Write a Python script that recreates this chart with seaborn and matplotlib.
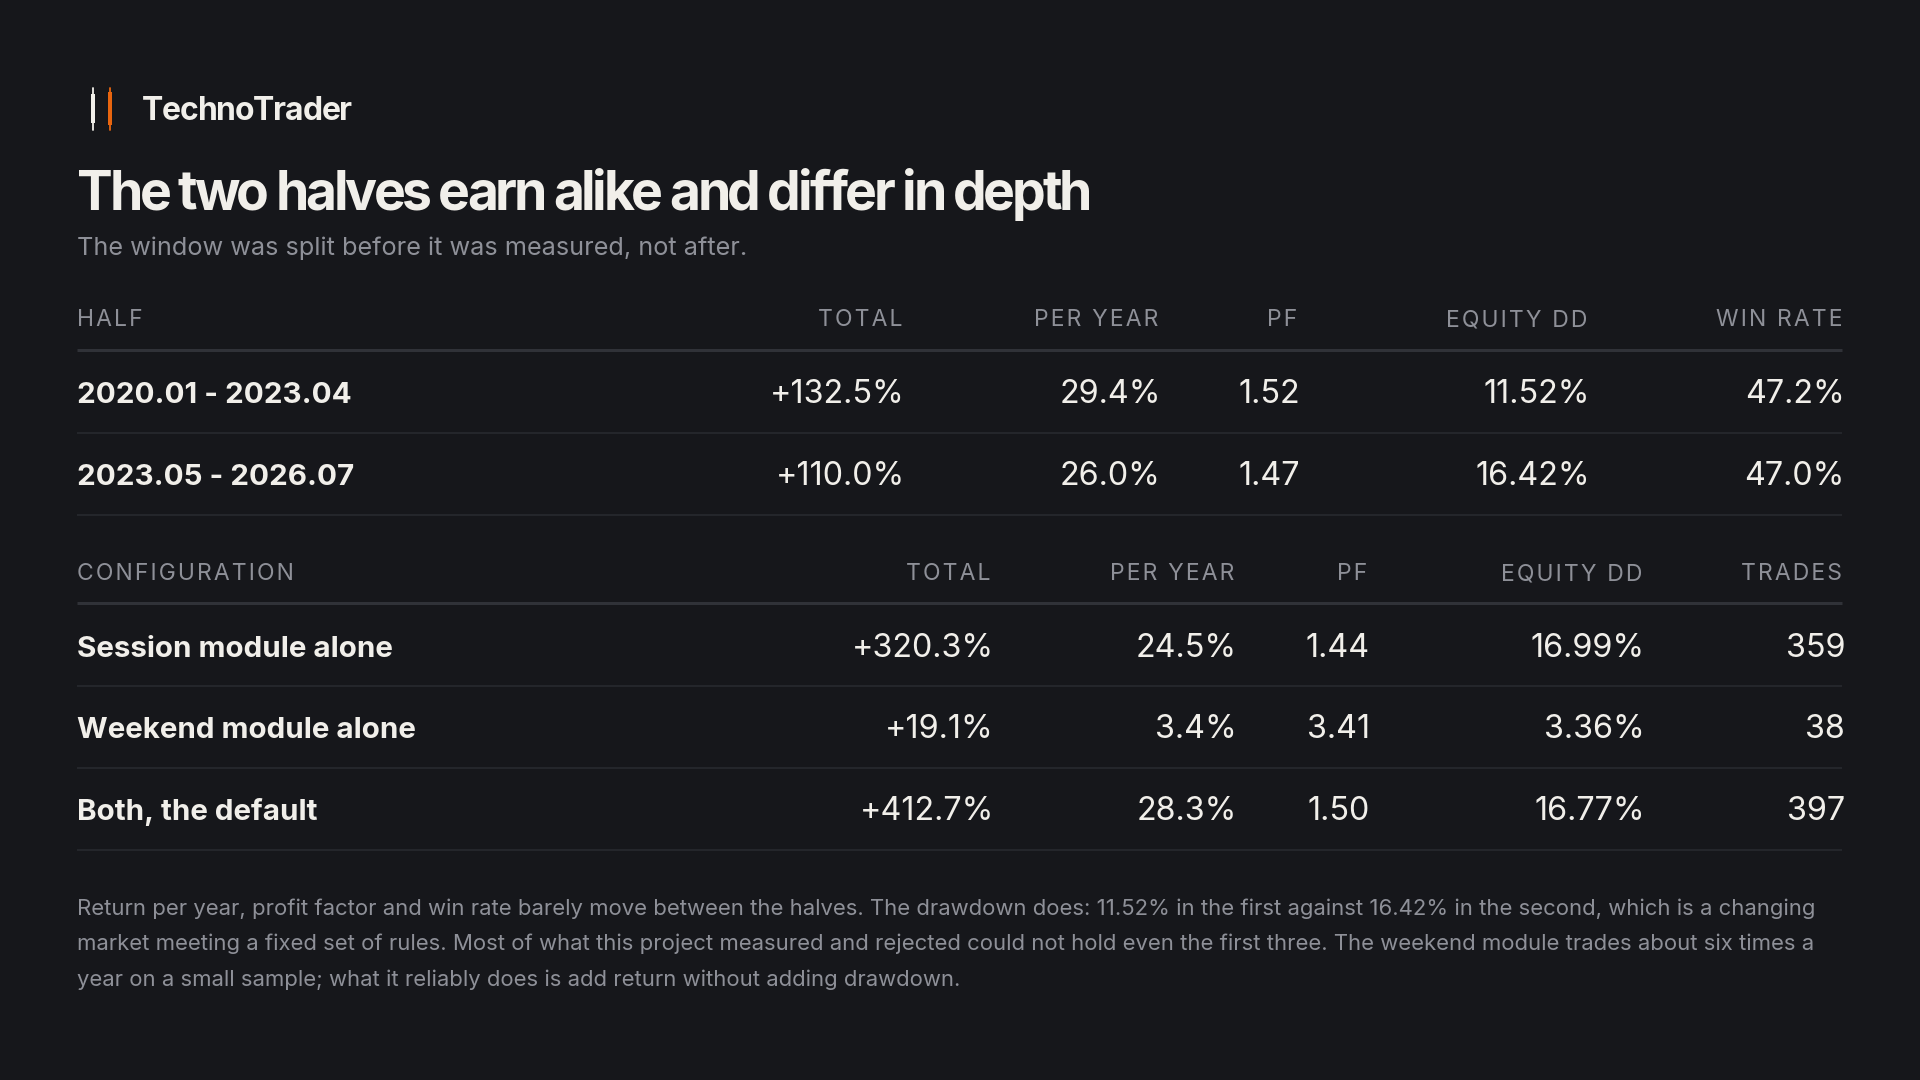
import seaborn as sns
import matplotlib.pyplot as plt
import pandas as pd
from matplotlib import font_manager, _text_helpers
from matplotlib.patches import Rectangle

# data
half_labels = ['2020.01 - 2023.04', '2023.05 - 2026.07']
half_total = [132.5, 110.0]
half_per_year = [29.4, 26.0]
half_pf = [1.52, 1.47]
half_dd = [11.52, 16.42]
half_win = [47.2, 47.0]

config_labels = ['Session module alone', 'Weekend module alone', 'Both, the default']
config_total = [320.3, 19.1, 412.7]
config_per_year = [24.5, 3.4, 28.3]
config_pf = [1.44, 3.41, 1.50]
config_dd = [16.99, 3.36, 16.77]
config_trades = [359, 38, 397]

half_headers = ['HALF', 'TOTAL', 'PER YEAR', 'PF', 'EQUITY DD', 'WIN RATE']
config_headers = ['CONFIGURATION', 'TOTAL', 'PER YEAR', 'PF', 'EQUITY DD', 'TRADES']

brand = 'TechnoTrader'
title = 'The two halves earn alike and differ in depth'
subtitle = 'The window was split before it was measured, not after.'
footer_lines = [
    'Return per year, profit factor and win rate barely move between the halves. The drawdown does: 11.52% in the first against 16.42% in the second, which is a changing',
    'market meeting a fixed set of rules. Most of what this project measured and rejected could not hold even the first three. The weekend module trades about six times a',
    'year on a small sample; what it reliably does is add return without adding drawdown.',
]

BG = '#16171b'
FG = '#f1efea'
MUTED = '#8e9098'
HEAD_LINE = '#303238'
ROW_LINE = '#24262b'
ORANGE = '#e8650f'

half_df = pd.DataFrame({
    'label': half_labels,
    'total': [f'+{v:.1f}%' for v in half_total],
    'per_year': [f'{v:.1f}%' for v in half_per_year],
    'pf': [f'{v:.2f}' for v in half_pf],
    'dd': [f'{v:.2f}%' for v in half_dd],
    'win': [f'{v:.1f}%' for v in half_win],
})
config_df = pd.DataFrame({
    'label': config_labels,
    'total': [f'+{v:.1f}%' for v in config_total],
    'per_year': [f'{v:.1f}%' for v in config_per_year],
    'pf': [f'{v:.2f}' for v in config_pf],
    'dd': [f'{v:.2f}%' for v in config_dd],
    'trades': [str(v) for v in config_trades],
})

sns.set_theme(style='dark', rc={'axes.facecolor': BG, 'figure.facecolor': BG})
plt.rcParams['font.family'] = ['Inter', 'DejaVu Sans']

DPI = 100
fig = plt.figure(figsize=(19.2, 10.8), dpi=DPI)
ax = fig.add_axes([0, 0, 1, 1])
ax.set_xlim(0, 1920)
ax.set_ylim(1080, 0)
ax.axis('off')

LEFT, RIGHT = 77, 1842


def tight_text(x, y, s, size, track, weight='normal', color=FG):
    # lay glyphs out one by one so the letter spacing can be tightened
    path = font_manager.findfont(font_manager.FontProperties(family='Inter', weight=weight))
    font = font_manager.get_font(path)
    font.set_size(size, DPI)
    for i, item in enumerate(_text_helpers.layout(s, font)):
        if item.char == ' ':
            continue
        ax.text(x + item.x + i * track, y, item.char, fontsize=size, fontweight=weight,
                color=color, va='baseline', ha='left')


def tracked(s):
    return '\u200a'.join(s)


def draw_table(df, headers, col_right, head_base, head_line, row_bases, row_lines):
    ax.text(LEFT, head_base, tracked(headers[0]), fontsize=16.5, color=MUTED, va='baseline', ha='left')
    for h, x in zip(headers[1:], col_right):
        ax.text(x, head_base, tracked(h), fontsize=16.5, color=MUTED, va='baseline', ha='right')
    ax.plot([LEFT, RIGHT], [head_line, head_line], color=HEAD_LINE, lw=2.2, solid_capstyle='butt')
    cols = list(df.columns)
    for i, row in df.iterrows():
        yb = row_bases[i]
        ax.text(LEFT, yb, row['label'], fontsize=21.3, fontweight='bold', color=FG, va='baseline', ha='left')
        for c, x in zip(cols[1:], col_right):
            ax.text(x + 3, yb, row[c], fontsize=23.3, color=FG, va='baseline', ha='right')
        ax.plot([LEFT, RIGHT], [row_lines[i], row_lines[i]], color=ROW_LINE, lw=1.5, solid_capstyle='butt')


# logo
ax.plot([92.5, 92.5], [88, 130], color=FG, lw=1.3)
ax.add_patch(Rectangle((90.5, 94), 4, 29, color=FG, lw=0))
ax.plot([109.5, 109.5], [88, 130], color=ORANGE, lw=1.3)
ax.add_patch(Rectangle((107.5, 92), 4, 33, color=ORANGE, lw=0))
tight_text(142, 120, brand, 23, -1.2, weight='bold')

tight_text(LEFT, 210, title, 38.5, -3.2, weight='bold')
ax.text(LEFT, 255, subtitle, fontsize=18.2, color=MUTED, va='baseline', ha='left')

draw_table(half_df, half_headers, [902, 1158, 1297, 1587, 1842],
           326, 350, [403, 485], [433, 515])
draw_table(config_df, config_headers, [991, 1234, 1367, 1642, 1842],
           580, 603, [657, 738, 820], [686, 768, 850])

for k, line in enumerate(footer_lines):
    ax.text(LEFT, 915 + k * 35.5, line, fontsize=15.9, color=MUTED, va='baseline', ha='left')

fig.savefig('out.png', dpi=DPI, facecolor=BG)
